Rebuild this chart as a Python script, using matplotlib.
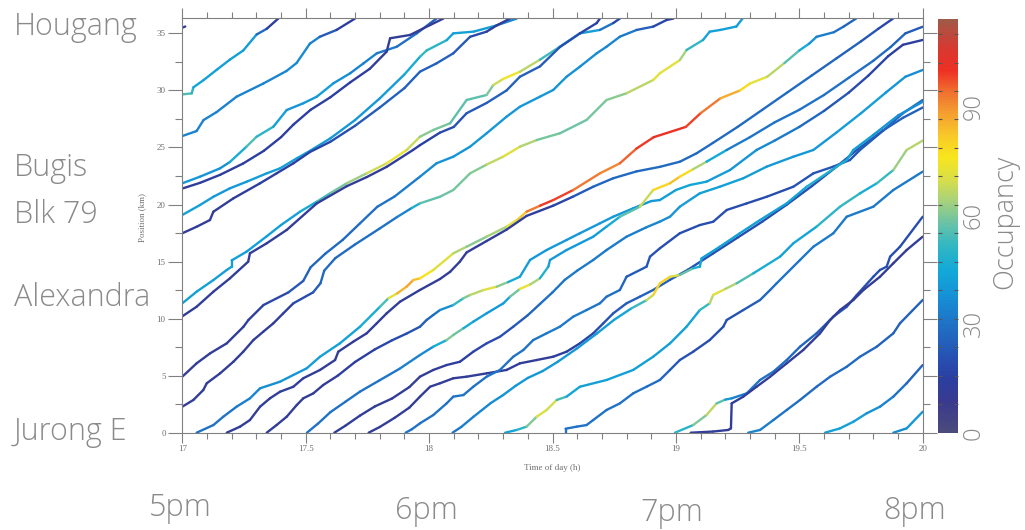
import numpy as np
import matplotlib
matplotlib.use("Agg")
import matplotlib.pyplot as plt
from matplotlib.collections import LineCollection
from matplotlib.colors import LinearSegmentedColormap, Normalize
from matplotlib.cm import ScalarMappable
from matplotlib.ticker import FixedLocator
from matplotlib.transforms import blended_transform_factory

# bus trajectories: (time of day [h], position [km], occupancy)
bus_a = [(17.0, 35.5, 12), (17.012, 35.6, 12)]
bus_b = [(17.0, 29.65, 55), (17.038, 29.74, 55), (17.045, 30.27, 45), (17.086, 30.9, 42), (17.139, 31.8, 42),
         (17.193, 32.7, 42), (17.247, 33.5, 42), (17.301, 34.9, 40), (17.342, 35.4, 15), (17.389, 36.3, 15)]
bus_c = [(17.0, 26.0, 34), (17.058, 26.44, 34), (17.086, 27.4, 34), (17.139, 28.1, 34), (17.22, 29.45, 34),
         (17.328, 30.6, 34), (17.422, 31.7, 36), (17.463, 32.4, 36), (17.517, 34.1, 36), (17.557, 34.7, 32),
         (17.625, 35.3, 15), (17.70, 36.3, 15)]
bus_d = [(17.0, 21.86, 40), (17.072, 22.44, 40), (17.153, 23.17, 38), (17.193, 23.73, 38), (17.26, 25.07, 55),
         (17.301, 25.94, 55), (17.369, 26.82, 45), (17.423, 28.28, 40), (17.49, 28.87, 38), (17.545, 29.45, 42),
         (17.612, 30.62, 40), (17.68, 31.5, 36), (17.734, 32.37, 34), (17.788, 33.25, 34), (17.869, 33.83, 30),
         (17.95, 35.0, 28), (18.004, 35.88, 25), (18.03, 36.3, 25)]
bus_e = [(17.0, 21.4, 12), (17.072, 21.9, 12), (17.153, 22.6, 14), (17.247, 23.6, 14), (17.33, 24.7, 14),
         (17.4, 25.9, 14), (17.45, 27.0, 15), (17.52, 28.3, 15), (17.6, 29.4, 15), (17.68, 30.7, 15),
         (17.76, 31.9, 12), (17.828, 33.4, 12), (17.842, 34.57, 12), (17.923, 34.86, 12), (18.004, 35.73, 12),
         (18.058, 36.3, 12)]
bus_f = [(17.0, 19.08, 42), (17.072, 19.96, 42), (17.126, 20.68, 40), (17.193, 21.42, 40), (17.261, 22.0, 40),
         (17.342, 22.73, 42), (17.396, 23.17, 42), (17.464, 24.05, 42), (17.517, 24.7, 42), (17.6, 25.8, 40),
         (17.7, 27.4, 40), (17.8, 29.3, 40), (17.9, 31.4, 42), (17.963, 32.95, 50), (17.99, 33.5, 55),
         (18.071, 34.4, 45), (18.098, 35.0, 42), (18.18, 35.15, 42), (18.274, 35.7, 40), (18.355, 36.3, 30)]
bus_g = [(17.0, 17.48, 12), (17.058, 18.05, 12), (17.112, 18.64, 12), (17.126, 19.37, 12), (17.207, 20.54, 12),
         (17.315, 21.86, 14), (17.382, 22.73, 14), (17.45, 23.61, 15), (17.517, 24.6, 15), (17.6, 25.5, 18),
         (17.7, 26.9, 22), (17.8, 28.5, 25), (17.9, 30.2, 25), (17.963, 31.64, 25), (18.03, 32.37, 25),
         (18.098, 33.25, 25), (18.166, 34.7, 22), (18.233, 35.15, 15), (18.274, 35.7, 12), (18.328, 36.3, 12)]
bus_h = [(17.0, 11.34, 42), (17.058, 12.36, 42), (17.126, 13.38, 42), (17.18, 14.26, 42), (17.2, 14.55, 42),
         (17.2, 15.1, 42), (17.26, 15.86, 42), (17.34, 17.18, 42), (17.40, 18.2, 42), (17.477, 19.37, 42),
         (17.545, 20.25, 50), (17.6, 21.0, 58), (17.666, 21.86, 60), (17.747, 22.73, 66), (17.828, 23.61, 72),
         (17.909, 24.78, 74), (17.963, 25.94, 62), (18.017, 26.53, 60), (18.085, 27.12, 58), (18.152, 29.16, 55),
         (18.233, 29.6, 58), (18.26, 30.47, 62), (18.3, 31.0, 75), (18.368, 31.64, 74), (18.449, 32.69, 58),
         (18.53, 33.83, 48), (18.611, 35.0, 42), (18.692, 35.3, 40), (18.746, 35.9, 20), (18.773, 36.3, 15)]
bus_i = [(17.0, 10.2, 12), (17.058, 11.04, 12), (17.126, 12.36, 12), (17.193, 13.53, 12), (17.267, 14.99, 12),
         (17.274, 15.72, 12), (17.342, 16.6, 12), (17.423, 17.77, 12), (17.545, 20.1, 12), (17.666, 21.6, 12),
         (17.747, 22.4, 12), (17.828, 23.3, 12), (17.935, 24.78, 14), (17.963, 25.2, 14), (18.044, 26.3, 18),
         (18.1, 26.8, 20), (18.152, 28.0, 22), (18.233, 28.9, 25), (18.314, 30.0, 25), (18.368, 31.2, 25),
         (18.449, 32.1, 25), (18.53, 33.8, 22), (18.611, 35.0, 18), (18.679, 35.9, 15), (18.692, 36.3, 15)]
bus_j = [(17.0, 4.91, 12), (17.058, 6.08, 12), (17.113, 6.96, 12), (17.18, 7.83, 12), (17.248, 9.29, 14),
         (17.268, 9.88, 14), (17.329, 11.19, 16), (17.43, 12.3, 20), (17.49, 13.3, 24), (17.52, 14.5, 26),
         (17.58, 15.7, 28), (17.65, 16.9, 28), (17.72, 18.35, 28), (17.79, 19.8, 30), (17.86, 20.7, 30),
         (17.963, 22.44, 35), (18.03, 23.61, 38), (18.098, 24.19, 38), (18.166, 25.07, 40), (18.233, 26.24, 40),
         (18.314, 27.7, 40), (18.368, 28.57, 40), (18.449, 29.45, 40), (18.503, 30.04, 40), (18.557, 31.2, 38),
         (18.611, 32.08, 38), (18.679, 33.25, 36), (18.719, 33.83, 36), (18.773, 34.71, 34), (18.841, 35.3, 30),
         (18.908, 35.59, 20), (18.962, 36.17, 15), (18.99, 36.3, 15)]
bus_k = [(17.0, 2.28, 12), (17.045, 2.87, 12), (17.085, 3.74, 12), (17.099, 4.33, 12), (17.153, 5.2, 12),
         (17.207, 6.22, 12), (17.247, 7.1, 12), (17.288, 8.12, 12), (17.328, 8.85, 12), (17.369, 9.59, 12),
         (17.409, 10.46, 14), (17.45, 11.34, 16), (17.53, 12.3, 22), (17.56, 13.1, 26), (17.575, 14.2, 28),
         (17.62, 15.3, 28), (17.7, 16.5, 28), (17.8, 17.9, 30), (17.87, 18.9, 30), (17.93, 19.7, 40),
         (17.963, 20.1, 55), (18.044, 20.68, 58), (18.098, 21.27, 58), (18.166, 22.73, 60), (18.233, 23.5, 62),
         (18.3, 24.19, 72), (18.368, 25.07, 70), (18.436, 25.65, 60), (18.53, 26.24, 58), (18.638, 27.41, 58),
         (18.719, 29.16, 60), (18.8, 29.75, 62), (18.908, 30.91, 70), (18.935, 31.5, 74), (19.016, 32.66, 70),
         (19.043, 33.54, 58), (19.11, 34.42, 45), (19.137, 35.15, 42), (19.18, 35.3, 42), (19.245, 35.6, 42),
         (19.27, 36.3, 40)]
bus_l = [(17.058, 0, 30), (17.126, 0.67, 30), (17.166, 1.4, 30), (17.22, 2.28, 32), (17.274, 3.01, 34),
         (17.315, 3.89, 36), (17.396, 4.47, 38), (17.45, 5.06, 40), (17.504, 5.64, 40), (17.558, 6.66, 42),
         (17.639, 7.84, 42), (17.72, 9.29, 44), (17.801, 11.04, 48), (17.835, 11.78, 60), (17.87, 12.2, 82),
         (17.909, 12.8, 88), (17.936, 13.38, 86), (17.963, 13.53, 80), (18.017, 14.26, 74), (18.098, 15.72, 68),
         (18.152, 16.3, 62), (18.233, 17.18, 60), (18.314, 18.06, 68), (18.36, 18.7, 76), (18.395, 19.37, 88),
         (18.45, 19.9, 98), (18.503, 20.39, 100), (18.584, 21.27, 96), (18.692, 22.73, 90), (18.773, 23.61, 92),
         (18.84, 24.9, 98), (18.91, 25.9, 100), (19.04, 26.8, 100), (19.10, 28.0, 96), (19.18, 29.3, 90),
         (19.26, 30.0, 82), (19.30, 30.6, 74), (19.37, 31.2, 70), (19.44, 32.4, 62), (19.50, 33.5, 50),
         (19.54, 34.1, 42), (19.57, 34.7, 36), (19.64, 35.1, 30), (19.68, 35.6, 28), (19.73, 36.3, 25)]
bus_m = [(17.18, 0, 12), (17.234, 0.53, 12), (17.274, 1.11, 12), (17.315, 2.28, 12), (17.355, 3.01, 12),
         (17.396, 3.59, 12), (17.45, 4.03, 12), (17.49, 4.77, 12), (17.558, 5.5, 12), (17.619, 6.37, 12),
         (17.632, 7.1, 12), (17.693, 7.98, 12), (17.747, 8.71, 12), (17.788, 9.59, 12), (17.828, 10.46, 12),
         (17.882, 11.48, 12), (17.963, 12.51, 12), (18.044, 13.47, 12), (18.085, 14.1, 12), (18.125, 15.0, 12),
         (18.152, 15.8, 12), (18.233, 16.8, 12), (18.314, 17.8, 12), (18.395, 19.0, 12), (18.503, 19.9, 14),
         (18.584, 20.7, 20), (18.665, 21.56, 26), (18.746, 22.3, 28), (18.84, 22.9, 28), (18.935, 23.3, 28),
         (19.016, 23.75, 28), (19.084, 24.49, 28), (19.15, 25.4, 28), (19.25, 26.8, 28), (19.35, 28.3, 28),
         (19.45, 29.8, 28), (19.55, 31.3, 28), (19.65, 32.8, 26), (19.75, 34.3, 24), (19.82, 35.4, 20),
         (19.88, 36.3, 15)]
bus_n = [(17.342, 0, 12), (17.382, 0.67, 12), (17.423, 1.4, 12), (17.464, 2.43, 12), (17.49, 3.01, 12),
         (17.531, 3.45, 12), (17.571, 4.18, 12), (17.63, 5.0, 12), (17.7, 6.2, 14), (17.78, 7.3, 16),
         (17.85, 8.1, 18), (17.91, 8.7, 20), (17.963, 9.29, 22), (17.99, 9.88, 25), (18.017, 10.32, 28),
         (18.044, 10.75, 30), (18.098, 11.19, 45), (18.139, 11.78, 58), (18.166, 12.07, 62), (18.22, 12.5, 70),
         (18.274, 12.8, 72), (18.32, 13.2, 50), (18.368, 13.67, 42), (18.409, 15.14, 40), (18.476, 16.01, 40),
         (18.557, 16.89, 40), (18.611, 17.48, 40), (18.692, 18.35, 40), (18.746, 18.93, 40), (18.827, 19.67, 40),
         (18.9, 20.3, 40), (18.935, 20.39, 40), (19.0, 21.27, 42), (19.057, 21.71, 45), (19.124, 22.0, 42),
         (19.219, 23.02, 40), (19.327, 24.78, 38), (19.4, 25.6, 34), (19.5, 26.8, 30), (19.6, 28.2, 25),
         (19.7, 29.8, 20), (19.78, 31.3, 18), (19.86, 33.0, 15), (19.92, 34.0, 15), (20.0, 34.42, 15)]
bus_o = [(17.505, 0, 30), (17.55, 0.8, 30), (17.6, 1.8, 30), (17.66, 2.7, 30), (17.72, 3.6, 30),
         (17.8, 4.6, 30), (17.88, 5.6, 32), (17.963, 6.81, 35), (18.017, 7.54, 38), (18.071, 8.12, 55),
         (18.098, 8.56, 66), (18.139, 9.15, 50), (18.179, 9.73, 42), (18.233, 10.46, 40), (18.301, 11.34, 40),
         (18.328, 11.92, 45), (18.368, 12.6, 72), (18.41, 13.0, 74), (18.449, 13.53, 55), (18.483, 14.55, 42),
         (18.49, 15.14, 40), (18.557, 16.01, 40), (18.665, 17.18, 40), (18.719, 18.06, 42), (18.773, 18.93, 50),
         (18.854, 19.81, 62), (18.908, 21.27, 74), (18.976, 21.86, 84), (19.016, 22.44, 82), (19.07, 23.1, 74),
         (19.124, 23.75, 55), (19.206, 24.78, 35), (19.3, 25.9, 30), (19.4, 27.2, 30), (19.5, 28.3, 30),
         (19.6, 29.6, 30), (19.7, 31.1, 30), (19.8, 32.6, 28), (19.87, 33.8, 28), (19.93, 35.0, 25),
         (20.0, 35.58, 22)]
bus_p = [(17.616, 0, 12), (17.66, 0.6, 12), (17.72, 1.5, 12), (17.78, 2.3, 12), (17.85, 3.0, 12),
         (17.92, 4.0, 12), (17.963, 4.91, 12), (18.017, 5.5, 12), (18.071, 5.93, 12), (18.125, 6.22, 14),
         (18.179, 7.1, 16), (18.233, 7.83, 18), (18.287, 8.41, 20), (18.341, 9.29, 22), (18.4, 10.3, 25),
         (18.45, 11.3, 28), (18.5, 12.3, 30), (18.55, 13.4, 32), (18.6, 14.2, 32), (18.665, 15.14, 32),
         (18.719, 16.01, 32), (18.8, 17.18, 32), (18.88, 18.0, 34), (18.935, 18.5, 36), (18.976, 18.93, 38),
         (19.016, 19.81, 40), (19.097, 20.98, 42), (19.178, 21.56, 42), (19.273, 22.3, 42), (19.368, 23.32, 40),
         (19.476, 24.19, 40), (19.557, 24.78, 40), (19.65, 26.3, 40), (19.75, 28.0, 42), (19.85, 29.8, 40),
         (19.93, 31.2, 38), (20.0, 31.79, 36)]
bus_q = [(17.755, 0, 12), (17.8, 0.5, 12), (17.86, 1.3, 12), (17.92, 2.2, 12), (17.963, 3.16, 12),
         (18.004, 4.03, 12), (18.044, 4.33, 12), (18.098, 4.77, 12), (18.152, 4.91, 12), (18.233, 5.2, 12),
         (18.314, 5.5, 12), (18.368, 6.08, 12), (18.436, 6.37, 12), (18.503, 6.66, 12), (18.557, 7.1, 14),
         (18.611, 7.83, 16), (18.665, 8.71, 18), (18.706, 9.59, 20), (18.746, 10.46, 22), (18.8, 11.34, 24),
         (18.854, 11.92, 25), (18.908, 12.51, 25), (18.976, 13.4, 25), (19.05, 14.3, 22), (19.15, 15.7, 20),
         (19.25, 17.1, 20), (19.35, 18.5, 20), (19.45, 20.0, 20), (19.55, 21.6, 20), (19.65, 23.3, 20),
         (19.74, 24.9, 22), (19.84, 26.5, 25), (19.92, 27.6, 25), (20.0, 28.5, 25)]
bus_r = [(17.905, 0, 30), (17.93, 0.3, 30), (17.963, 0.82, 30), (18.017, 1.55, 30), (18.071, 2.57, 30),
         (18.098, 3.16, 30), (18.139, 3.3, 30), (18.179, 4.03, 30), (18.233, 4.91, 30), (18.287, 5.5, 30),
         (18.341, 6.66, 30), (18.382, 7.25, 30), (18.422, 8.12, 30), (18.476, 8.71, 32), (18.53, 9.29, 32),
         (18.584, 10.17, 32), (18.638, 10.75, 32), (18.692, 11.34, 30), (18.719, 11.92, 30), (18.773, 12.51, 28),
         (18.8, 13.67, 25), (18.881, 14.55, 22), (18.895, 15.43, 22), (18.935, 16.16, 20), (19.016, 17.48, 20),
         (19.097, 18.2, 20), (19.151, 18.49, 20), (19.206, 19.52, 20), (19.287, 20.1, 20), (19.368, 20.68, 20),
         (19.476, 21.56, 20), (19.557, 22.73, 22), (19.638, 23.32, 22), (19.705, 23.9, 22), (19.746, 24.78, 22),
         (19.841, 26.5, 25), (19.92, 28.0, 28), (20.0, 29.16, 30)]
bus_s = [(18.095, 0, 30), (18.13, 0.5, 32), (18.18, 1.4, 34), (18.25, 2.6, 36), (18.3, 3.3, 38),
         (18.35, 4.1, 40), (18.4, 4.8, 40), (18.46, 5.4, 40), (18.52, 6.2, 40), (18.6, 7.4, 40),
         (18.68, 8.7, 40), (18.75, 9.9, 42), (18.82, 10.9, 45), (18.88, 11.6, 60), (18.908, 12.07, 75),
         (18.935, 13.09, 85), (18.976, 13.67, 75), (19.016, 13.82, 65), (19.07, 14.41, 50), (19.097, 14.55, 45),
         (19.104, 15.28, 42), (19.178, 16.3, 42), (19.259, 17.48, 42), (19.341, 18.64, 42), (19.449, 20.1, 42),
         (19.53, 21.56, 45), (19.611, 22.73, 50), (19.692, 23.9, 45), (19.719, 24.78, 42), (19.8, 26.1, 40),
         (19.9, 27.8, 38), (20.0, 29.0, 36)]
bus_t = [(18.308, 0, 42), (18.355, 0.24, 45), (18.395, 0.53, 55), (18.436, 1.4, 65), (18.476, 1.99, 76),
         (18.517, 2.87, 62), (18.557, 3.16, 45), (18.611, 4.03, 42), (18.719, 4.62, 42), (18.827, 5.5, 42),
         (18.908, 6.66, 42), (18.976, 7.83, 42), (19.043, 9.29, 42), (19.097, 10.75, 45), (19.137, 11.34, 60),
         (19.151, 12.07, 72), (19.2, 12.6, 70), (19.246, 13.09, 60), (19.314, 13.97, 50), (19.422, 15.43, 42),
         (19.476, 16.6, 42), (19.57, 18.06, 45), (19.665, 19.81, 55), (19.746, 20.98, 48), (19.814, 21.86, 45),
         (19.881, 23.02, 60), (19.935, 24.78, 65), (20.0, 25.6, 66)]
bus_u = [(18.553, 0, 30), (18.553, 0.35, 30), (18.598, 0.53, 30), (18.638, 0.67, 30), (18.665, 1.11, 30),
         (18.719, 1.99, 30), (18.773, 2.57, 30), (18.827, 3.45, 30), (18.881, 4.03, 30), (18.935, 4.62, 28),
         (18.976, 5.5, 25), (19.016, 6.37, 22), (19.07, 7.1, 20), (19.137, 8.12, 20), (19.192, 9.29, 20),
         (19.206, 9.88, 20), (19.273, 10.75, 22), (19.341, 11.63, 25), (19.382, 12.51, 28), (19.408, 13.09, 30),
         (19.503, 15.14, 32), (19.557, 16.3, 32), (19.638, 17.48, 32), (19.692, 18.93, 32), (19.8, 19.81, 32),
         (19.881, 21.27, 32), (20.0, 22.88, 32)]
bus_v = [(18.996, 0, 45), (19.07, 0.67, 55), (19.124, 1.55, 65), (19.165, 2.57, 68), (19.2, 2.9, 45),
         (19.226, 3.01, 35), (19.287, 3.45, 32), (19.341, 4.62, 30), (19.395, 5.35, 30), (19.449, 6.37, 28),
         (19.503, 7.54, 28), (19.57, 8.71, 25), (19.638, 10.17, 22), (19.692, 11.04, 22), (19.733, 12.07, 20),
         (19.8, 13.67, 20), (19.827, 14.26, 20), (19.854, 14.55, 20), (19.868, 15.43, 20), (19.908, 16.3, 20),
         (20.0, 18.93, 20)]
bus_w = [(19.06, 0, 12), (19.15, 0.1, 12), (19.212, 0.24, 12), (19.223, 0.38, 12), (19.226, 2.57, 12),
         (19.273, 3.16, 12), (19.327, 4.03, 12), (19.382, 4.91, 12), (19.449, 6.08, 12), (19.516, 7.25, 12),
         (19.584, 8.71, 12), (19.625, 9.88, 12), (19.665, 10.75, 12), (19.719, 11.63, 12), (19.76, 12.51, 12),
         (19.827, 13.67, 12), (19.881, 14.85, 12), (19.935, 16.01, 12), (20.0, 17.18, 12)]
bus_x = [(19.293, 0, 36), (19.341, 0.24, 34), (19.395, 1.11, 32), (19.449, 1.99, 30), (19.503, 2.87, 28),
         (19.57, 4.03, 28), (19.625, 4.91, 28), (19.692, 5.78, 28), (19.746, 6.66, 28), (19.814, 7.54, 26),
         (19.881, 8.71, 25), (19.908, 9.59, 25), (20.0, 11.63, 25)]
bus_y = [(19.604, 0, 42), (19.665, 0.38, 42), (19.719, 0.96, 42), (19.773, 1.7, 40), (19.827, 2.28, 36),
         (19.881, 3.16, 32), (19.935, 4.33, 28), (20.0, 5.93, 25)]
bus_z = [(19.881, 0, 35), (19.935, 0.38, 38), (20.0, 1.84, 42)]

buses = [bus_a, bus_b, bus_c, bus_d, bus_e, bus_f, bus_g, bus_h, bus_i, bus_j, bus_k, bus_l, bus_m,
         bus_n, bus_o, bus_p, bus_q, bus_r, bus_s, bus_t, bus_u, bus_v, bus_w, bus_x, bus_y, bus_z]

x_ticks = [17, 17.5, 18, 18.5, 19, 19.5, 20]
x_labels = ["17", "17.5", "18", "18.5", "19", "19.5", "20"]
y_ticks = [0, 5, 10, 15, 20, 25, 30, 35]

stops = ["Hougang", "Bugis", "Blk 79", "Alexandra", "Jurong E"]
stop_y = [27, 168, 215, 298, 432]          # pixel rows of the stop labels
clock = ["5pm", "6pm", "7pm", "8pm"]
clock_xy = [(180, 508), (426, 511), (672, 513), (915, 511)]

occ_max = 114
cb_ticks = [0, 30, 60, 90]
cmap_vals = [0, 8, 15, 22, 30, 38, 45, 52, 58, 64, 70, 76, 82, 88, 94, 100, 106, 114]
cmap_cols = ["#4b4b7b", "#3a3a8e", "#2b3fa2", "#2556b6", "#1f72c6", "#1592d6", "#12aad8", "#35b8c0",
             "#6cc3a4", "#a8d27a", "#dade48", "#f8e61c", "#f8c828", "#f4a030", "#f07030", "#ee3024",
             "#d83830", "#a05a48"]

cmap = LinearSegmentedColormap.from_list(
    "occ", list(zip(np.array(cmap_vals) / occ_max, cmap_cols)))
norm = Normalize(0, occ_max)

W, H = 1025, 530
gray = "#8a8a8a"
fig = plt.figure(figsize=(W / 100, H / 100), dpi=100)
ax = fig.add_axes([182.3 / W, 1 - 432.7 / H, (922.7 - 182.3) / W, (432.7 - 18.3) / H])

segs, vals = [], []
for bus in buses:
    arr = np.array(bus, dtype=float)
    for i in range(len(arr) - 1):
        segs.append(arr[i:i + 2, :2])
        vals.append(0.5 * (arr[i, 2] + arr[i + 1, 2]))
lc = LineCollection(segs, cmap=cmap, norm=norm, linewidths=1.7,
                    capstyle="round", joinstyle="round")
lc.set_array(np.array(vals))
ax.add_collection(lc)

ax.set_xlim(17, 20)
ax.set_ylim(0, 36.32)
ax.set_xticks(x_ticks)
ax.set_xticklabels(x_labels)
ax.xaxis.set_minor_locator(FixedLocator(np.arange(17, 20.001, 0.1)))
ax.set_yticks(y_ticks)
ax.yaxis.set_minor_locator(FixedLocator(np.arange(0, 36.3, 2.5)))
serif = "Liberation Serif"
for lab in ax.get_xticklabels() + ax.get_yticklabels():
    lab.set_fontfamily(serif)
ax.tick_params(which="both", direction="out", top=True, right=True, colors="#808080",
               labelcolor="#707070", labelsize=6.5, width=0.8)
ax.tick_params(axis="x", which="major", length=7, pad=2)
ax.tick_params(axis="x", which="minor", length=4.5)
ax.tick_params(axis="y", which="major", length=10, pad=2)
ax.tick_params(axis="y", which="minor", length=5)
for sp in ax.spines.values():
    sp.set_color("#808080")
    sp.set_linewidth(0.8)
ax.set_ylabel("Position (km)", fontsize=6.5, family=serif, color="#707070")
ax.yaxis.set_label_coords(-0.049, 0.52)
ax.set_xlabel("Time of day (h)", fontsize=6.5, family=serif, color="#707070")
ax.xaxis.set_label_coords(0.5, -0.075)

# colour bar
cax = fig.add_axes([937.7 / W, 1 - 432.7 / H, 20 / W, (432.7 - 19) / H])
cb = fig.colorbar(ScalarMappable(norm=norm, cmap=cmap), cax=cax)
cb.outline.set_visible(False)
cax.set_yticks(cb_ticks)
cax.set_yticklabels([])
cax.yaxis.set_minor_locator(FixedLocator(np.arange(2.5, 36.3, 2.5) * occ_max / 36.32))
cax.tick_params(which="major", length=0)
cax.tick_params(which="minor", direction="in", left=True, right=True, length=3,
                color="#555555", width=0.8)
trans = blended_transform_factory(cax.transAxes, cax.transData)
big = dict(family="Open Sans", fontweight="light", color=gray, fontsize=22)
num = dict(big, fontsize=17)
for v in cb_ticks:
    cax.text(1.8, v, str(v), rotation=90, ha="center", va="center", transform=trans, **num)
fig.text(1005 / W, 1 - 222 / H, "Occupancy", rotation=90, ha="center", va="center",
         **dict(big, fontsize=19.5))

for name, yy in zip(stops, stop_y):
    fig.text(14 / W, 1 - yy / H, name, ha="left", va="center", **big)
for name, (xx, yy) in zip(clock, clock_xy):
    fig.text(xx / W, 1 - yy / H, name, ha="center", va="center", **big)

fig.savefig("out.png", dpi=100)
